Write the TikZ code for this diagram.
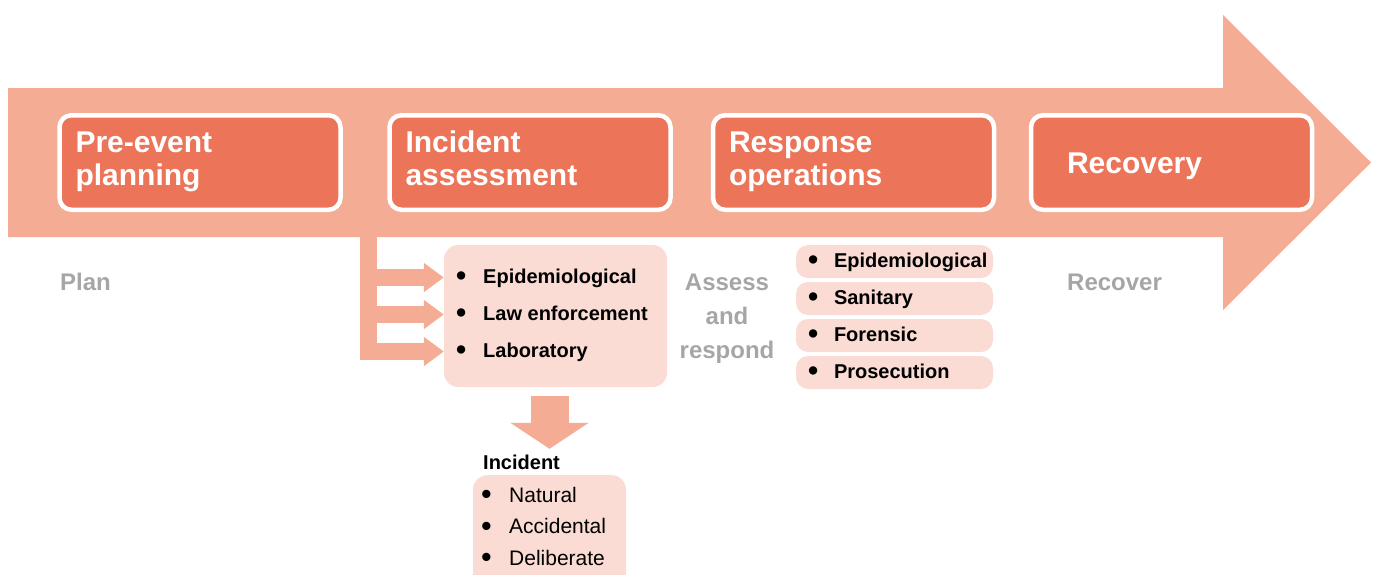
\documentclass[tikz,border=0pt]{standalone}
\usepackage{fontspec}
\usepackage{graphicx}
\setmainfont{Liberation Sans}
\usetikzlibrary{arrows.meta, positioning, calc}

\definecolor{shaftred}{HTML}{F4AC94}
\definecolor{stagered}{HTML}{EC7459}
\definecolor{itempink}{HTML}{FADCD4}
\definecolor{labelgray}{HTML}{A6A6A6}

% bullet entry: dot in a fixed box, then the text
\newcommand{\bul}[2][21pt]{\mbox{\makebox[#1][l]{\raisebox{-0.12em}{\scalebox{1.45}{\textbullet}}}#2}}

\begin{document}
\begin{tikzpicture}[x=1pt, y=-1pt,
    stage/.style={rectangle, rounded corners=12pt, fill=stagered, draw=white, line width=4.5pt, minimum width=281pt, minimum height=94.5pt, text width=249pt, inner xsep=16pt, align=left, text height=22pt, text depth=42pt, text=white, font=\fontsize{30}{33}\selectfont\bfseries},
    listbox/.style={rectangle, rounded corners=14pt, fill=itempink, draw=none, inner sep=0pt},
    pill/.style={rectangle, rounded corners=12pt, fill=itempink, minimum width=197pt, minimum height=33pt, text width=173pt, inner xsep=12pt, inner ysep=0pt, align=left, text height=15pt, text depth=4pt, font=\fontsize{20}{24}\selectfont\bfseries},
    entry/.style={anchor=base west, inner sep=0pt, text height=15pt, text depth=4pt, font=\fontsize{20}{24}\selectfont\bfseries},
    phase/.style={text=labelgray, inner sep=0pt, font=\fontsize{24}{34}\selectfont\bfseries},
    feed/.style={shaftred, line width=17pt, -{Triangle[length=20pt 0 1, width=28pt 0 1]}},
    drop/.style={shaftred, line width=38pt, -{Triangle[length=26pt 0 1, width=77pt 0 1]}}
]
\useasboundingbox (0,0) rectangle (1375,574);

% Big arrow
\fill[shaftred] (8,88) -- (1223,88) -- (1223,15) -- (1371,162.5) -- (1223,310) -- (1223,237) -- (8,237) -- cycle;

% Stages
\node[stage] (preevent) at (200,162.5) {Pre-event\\planning};
\node[stage] (assess) at (530,162.5) {Incident\\assessment};
\node[stage] (response) at (853.5,162.5) {Response\\operations};
\node[stage, inner xsep=36pt, text width=209pt, text depth=0pt] (recovery) at (1171.5,162.5) {Recovery};

% Phase labels
\node[phase, anchor=base west] (planlbl) at (60,290) {Plan};
\node[phase, align=center, anchor=base] (assesslbl) at (727,358) {Assess\\and\\respond};
\node[phase, anchor=base west] (recoverlbl) at (1067,290) {Recover};

% Assessment list
\node[listbox, minimum width=223pt, minimum height=142pt] (checks) at (555.5,316) {};
\node[entry] (epi) at (456,283) {\bul[27pt]{Epidemiological}};
\node[entry] (law) at (456,320) {\bul[27pt]{Law enforcement}};
\node[entry] (lab) at (456,357) {\bul[27pt]{Laboratory}};

% Incident types
\node[listbox, minimum width=153pt, minimum height=130pt, anchor=north] (incbox) at (549.5,475) {};
\node[entry] (inclbl) at (483,469) {Incident};
\node[entry, font=\fontsize{21}{25}\selectfont] (natural) at (481,502) {\bul[28pt]{Natural}};
\node[entry, font=\fontsize{21}{25}\selectfont] (accidental) at (481,533.5) {\bul[28pt]{Accidental}};
\node[entry, font=\fontsize{21}{25}\selectfont] (deliberate) at (481,565) {\bul[28pt]{Deliberate}};

% Response lines
\node[pill] (opepi) at (894.5,261.5) {\bul[26pt]{Epidemiological}};
\node[pill] (opsan) at (894.5,298.5) {\bul[26pt]{Sanitary}};
\node[pill] (opfor) at (894.5,335.5) {\bul[26pt]{Forensic}};
\node[pill] (oppro) at (894.5,372.5) {\bul[26pt]{Prosecution}};

% Paths
\coordinate (fork) at (368.5,230);
\draw[feed] (fork) |- (checks.west |- lab);
\draw[feed] (fork |- epi) -- (checks.west |- epi);
\draw[feed] (fork |- law) -- (checks.west |- law);
\draw[drop, shorten <=9pt, shorten >=5pt] (checks.south -| incbox.north) -- (inclbl.north -| incbox.north);

\end{tikzpicture}
\end{document}
